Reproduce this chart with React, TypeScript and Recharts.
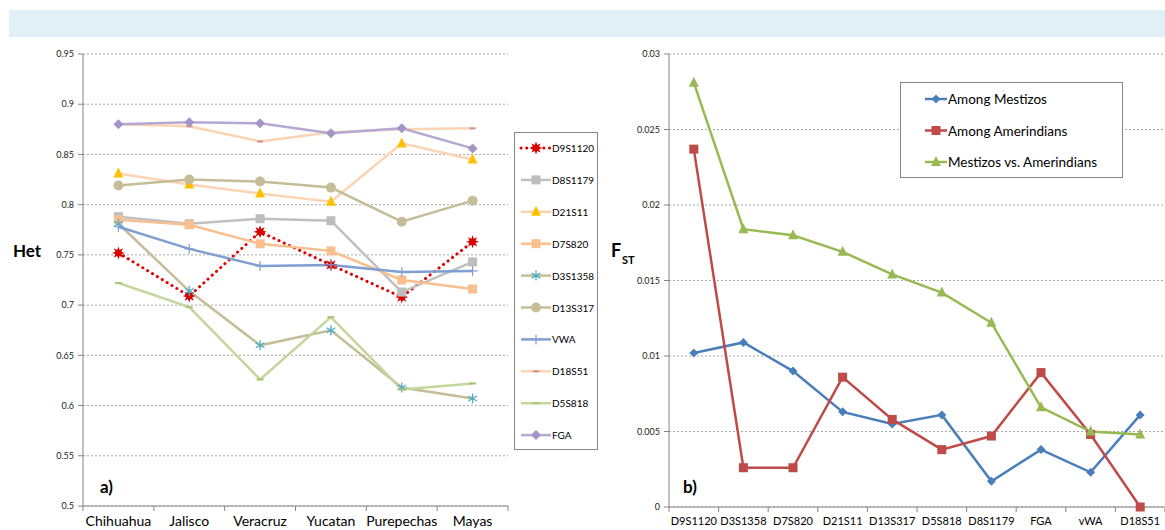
import React from 'react';
import { LineChart, Line, XAxis, YAxis, CartesianGrid, Legend } from 'recharts';

// ---------- Data ----------
const populations = ['Chihuahua', 'Jalisco', 'Veracruz', 'Yucatan', 'Purepechas', 'Mayas'];
const D9S1120 = [0.752, 0.709, 0.773, 0.74, 0.708, 0.763];
const D8S1179 = [0.788, 0.781, 0.786, 0.784, 0.713, 0.743];
const D21S11 = [0.831, 0.82, 0.811, 0.803, 0.861, 0.845];
const D7S820 = [0.785, 0.78, 0.761, 0.754, 0.725, 0.716];
const D3S1358 = [0.781, 0.714, 0.66, 0.675, 0.618, 0.607];
const D13S317 = [0.819, 0.825, 0.823, 0.817, 0.783, 0.804];
const VWA = [0.778, 0.756, 0.739, 0.74, 0.733, 0.734];
const D18S51 = [0.88, 0.878, 0.863, 0.872, 0.875, 0.876];
const D5S818 = [0.722, 0.698, 0.626, 0.688, 0.616, 0.622];
const FGA = [0.88, 0.882, 0.881, 0.871, 0.876, 0.856];
const hetTicks = [0.5, 0.55, 0.6, 0.65, 0.7, 0.75, 0.8, 0.85, 0.9, 0.95];

const loci = ['D9S1120', 'D3S1358', 'D7S820', 'D21S11', 'D13S317', 'D5S818', 'D8S1179', 'FGA', 'vWA', 'D18S51'];
const amongMestizos = [0.0102, 0.0109, 0.009, 0.0063, 0.0055, 0.0061, 0.0017, 0.0038, 0.0023, 0.0061];
const amongAmerindians = [0.0237, 0.0026, 0.0026, 0.0086, 0.0058, 0.0038, 0.0047, 0.0089, 0.0048, 0];
const mestizosVsAmerindians = [0.0281, 0.0184, 0.018, 0.0169, 0.0154, 0.0142, 0.0122, 0.0066, 0.005, 0.0048];
const fstTicks = [0, 0.005, 0.01, 0.015, 0.02, 0.025, 0.03];

const hetSeries: [string, number[]][] = [
  ['D9S1120', D9S1120],
  ['D8S1179', D8S1179],
  ['D21S11', D21S11],
  ['D7S820', D7S820],
  ['D3S1358', D3S1358],
  ['D13S317', D13S317],
  ['VWA', VWA],
  ['D18S51', D18S51],
  ['D5S818', D5S818],
  ['FGA', FGA],
];
const hetData = populations.map((p, i) => {
  const row: any = { pop: p };
  hetSeries.forEach(([k, arr]) => (row[k] = arr[i]));
  return row;
});

const fstSeries: [string, string, number[]][] = [
  ['mest', 'Among Mestizos', amongMestizos],
  ['amer', 'Among Amerindians', amongAmerindians],
  ['vs', 'Mestizos vs. Amerindians', mestizosVsAmerindians],
];
const fstData = loci.map((l, i) => {
  const row: any = { locus: l };
  fstSeries.forEach(([k, , arr]) => (row[k] = arr[i]));
  return row;
});

// ---------- Styles ----------
const AXIS = '#868686';
const GRID = '#a6a6a6';
const FONT = 'Lato, "Open Sans", sans-serif';

type Marker = (cx: number, cy: number, key: string) => React.ReactElement;

const square = (fill: string, s: number): Marker => (cx, cy, key) => (
  <rect key={key} x={cx - s / 2} y={cy - s / 2} width={s} height={s} fill={fill} />
);
const triangle = (fill: string, s: number): Marker => (cx, cy, key) => (
  <path key={key} d={`M${cx},${cy - s * 0.6} L${cx + s / 2},${cy + s * 0.4} L${cx - s / 2},${cy + s * 0.4} Z`} fill={fill} />
);
const diamond = (fill: string, s: number): Marker => (cx, cy, key) => (
  <path key={key} d={`M${cx},${cy - s} L${cx + s},${cy} L${cx},${cy + s} L${cx - s},${cy} Z`} fill={fill} />
);
const circle = (fill: string, r: number): Marker => (cx, cy, key) => <circle key={key} cx={cx} cy={cy} r={r} fill={fill} />;
const dash = (stroke: string, w: number): Marker => (cx, cy, key) => (
  <line key={key} x1={cx - w / 2} x2={cx + w / 2} y1={cy} y2={cy} stroke={stroke} strokeWidth={2} />
);
const plus = (stroke: string, s: number): Marker => (cx, cy, key) => (
  <path key={key} d={`M${cx - s},${cy} H${cx + s} M${cx},${cy - s} V${cy + s}`} stroke={stroke} strokeWidth={1.2} fill="none" />
);
const asterisk = (stroke: string, s: number): Marker => (cx, cy, key) => (
  <path
    key={key}
    d={`M${cx},${cy - s} V${cy + s} M${cx - s * 0.87},${cy - s / 2} L${cx + s * 0.87},${cy + s / 2} M${cx - s * 0.87},${cy + s / 2} L${cx + s * 0.87},${cy - s / 2}`}
    stroke={stroke}
    strokeWidth={1.3}
    fill="none"
  />
);
const star = (fill: string, r: number): Marker => (cx, cy, key) => {
  const pts: string[] = [];
  for (let i = 0; i < 16; i++) {
    const a = (Math.PI / 8) * i - Math.PI / 2;
    const rr = i % 2 === 0 ? r : r * 0.5;
    pts.push(`${cx + rr * Math.cos(a)},${cy + rr * Math.sin(a)}`);
  }
  return <polygon key={key} points={pts.join(' ')} fill={fill} />;
};

const hetStyle: Record<string, { stroke: string; width: number; dash?: string; marker: Marker }> = {
  D9S1120: { stroke: '#e00000', width: 3, dash: '0.1 5.6', marker: star('#d80000', 6.5) },
  D8S1179: { stroke: '#c0c0c0', width: 2.5, marker: square('#bdbdbd', 9) },
  D21S11: { stroke: '#fcd3b3', width: 2.5, marker: triangle('#ffc000', 10) },
  D7S820: { stroke: '#fabf8f', width: 2.5, marker: square('#fabf8f', 9) },
  D3S1358: { stroke: '#c4bd97', width: 2.5, marker: asterisk('#4bacc6', 5) },
  D13S317: { stroke: '#c4bd97', width: 2.5, marker: circle('#c4bd97', 5) },
  VWA: { stroke: '#7f9fd2', width: 2.5, marker: plus('#7f9fd2', 5) },
  D18S51: { stroke: '#fcd3b3', width: 2.5, marker: dash('#d58f8c', 6) },
  D5S818: { stroke: '#c3d69b', width: 2.5, marker: dash('#a9c476', 7) },
  FGA: { stroke: '#b5a8d3', width: 2.5, marker: diamond('#a196c6', 5) },
};

const fstStyle: Record<string, { stroke: string; marker: Marker }> = {
  mest: { stroke: '#4a7ebb', marker: diamond('#4a7ebb', 4.5) },
  amer: { stroke: '#be4b48', marker: square('#be4b48', 9) },
  vs: { stroke: '#98b954', marker: triangle('#98b954', 10) },
};

const hetOrder = hetSeries.map(([k]) => k);
const fstOrder = fstSeries.map(([k]) => k);

const fmt = (v: number) => String(Number(v.toFixed(3)));

const makeXTick = (band: number, count: number, fontSize: number, dy: number) => (props: any) => {
  const { x, y, payload, index } = props;
  return (
    <g>
      <line x1={x - band / 2} x2={x - band / 2} y1={y} y2={y + 5} stroke={AXIS} />
      {index === count - 1 && <line x1={x + band / 2} x2={x + band / 2} y1={y} y2={y + 5} stroke={AXIS} />}
      <text x={x} y={y + dy} textAnchor="middle" fontSize={fontSize} fill="#000" fontFamily={FONT}>
        {payload.value}
      </text>
    </g>
  );
};

const sortBy = (payload: any[], order: string[]) =>
  [...payload].sort((a, b) => order.indexOf(a.dataKey) - order.indexOf(b.dataKey));

const LeftLegend = (props: any) => {
  const payload = sortBy(props.payload || [], hetOrder);
  return (
    <div style={{ width: 84, height: 318, border: `1px solid ${AXIS}`, background: '#fff', boxSizing: 'border-box' }}>
      <svg width={82} height={316} style={{ display: 'block' }}>
        {payload.map((entry: any, i: number) => {
          const s = hetStyle[entry.dataKey];
          const cy = 15 + i * 31.9;
          return (
            <g key={entry.dataKey}>
              <line x1={6} x2={36} y1={cy} y2={cy} stroke={s.stroke} strokeWidth={s.width} strokeDasharray={s.dash} strokeLinecap={s.dash ? 'round' : 'butt'} />
              {s.marker(21, cy, 'lg' + i)}
              <text x={37} y={cy + 4} fontSize={10} fill="#000" fontFamily={FONT}>
                {entry.value}
              </text>
            </g>
          );
        })}
      </svg>
    </div>
  );
};

const RightLegend = (props: any) => {
  const payload = sortBy(props.payload || [], fstOrder);
  return (
    <div style={{ width: 223, height: 96, border: `1px solid ${AXIS}`, background: '#fff', boxSizing: 'border-box' }}>
      <svg width={221} height={94} style={{ display: 'block' }}>
        {payload.map((entry: any, i: number) => {
          const s = fstStyle[entry.dataKey];
          const cy = 16 + i * 31.5;
          return (
            <g key={entry.dataKey}>
              <line x1={24} x2={46} y1={cy} y2={cy} stroke={s.stroke} strokeWidth={2.5} />
              {s.marker(35, cy, 'rg' + i)}
              <text x={47} y={cy + 5} fontSize={13.5} fill="#000" fontFamily={FONT}>
                {entry.value}
              </text>
            </g>
          );
        })}
      </svg>
    </div>
  );
};

const LEFT_BAND = 425 / 6;
const RIGHT_BAND = 496 / 10;

export default function App() {
  return (
    <div style={{ position: 'absolute', left: 0, top: 0, width: 1165, height: 530, background: '#fff', fontFamily: FONT, overflow: 'hidden' }}>
      <div style={{ position: 'absolute', left: 9, top: 10, width: 1156, height: 27, background: '#e1f0f5' }} />

      <div style={{ position: 'absolute', left: 0, top: 0 }}>
        <LineChart width={600} height={530} data={hetData} margin={{ top: 54, right: 92, bottom: 0, left: 43 }}>
          <CartesianGrid horizontal vertical={false} stroke={GRID} strokeDasharray="2 2" />
          <XAxis
            dataKey="pop"
            type="category"
            interval={0}
            height={24}
            padding={{ left: LEFT_BAND / 2, right: LEFT_BAND / 2 }}
            stroke={AXIS}
            tickLine={false}
            tickSize={0}
            tickMargin={0}
            tick={makeXTick(LEFT_BAND, populations.length, 14, 20)}
          />
          <YAxis
            type="number"
            domain={[0.5, 0.95]}
            ticks={hetTicks}
            interval={0}
            width={40}
            stroke={AXIS}
            tickSize={5}
            tickMargin={4}
            tickFormatter={fmt}
            tick={{ fontSize: 9, fill: '#222', fontFamily: FONT }}
          />
          <Legend
            layout="vertical"
            align="center"
            verticalAlign="middle"
            wrapperStyle={{ left: 514, top: 132, width: 84, height: 318 }}
            content={<LeftLegend />}
          />
          {hetSeries.map(([k]) => {
            const s = hetStyle[k];
            return (
              <Line
                key={k}
                dataKey={k}
                name={k}
                type="linear"
                stroke={s.stroke}
                strokeWidth={s.width}
                strokeDasharray={s.dash}
                strokeLinecap={s.dash ? 'round' : 'butt'}
                isAnimationActive={false}
                activeDot={false}
                dot={(p: any) => s.marker(p.cx, p.cy, `${k}-${p.index}`)}
              />
            );
          })}
        </LineChart>
      </div>

      <div style={{ position: 'absolute', left: 580, top: 0 }}>
        <LineChart width={585} height={530} data={fstData} margin={{ top: 54, right: 0, bottom: 0, left: 49 }}>
          <CartesianGrid horizontal vertical={false} stroke={GRID} strokeDasharray="2 2" />
          <XAxis
            dataKey="locus"
            type="category"
            interval={0}
            height={23}
            padding={{ left: RIGHT_BAND / 2, right: RIGHT_BAND / 2 }}
            stroke={AXIS}
            tickLine={false}
            tickSize={0}
            tickMargin={0}
            tick={makeXTick(RIGHT_BAND, loci.length, 11, 18)}
          />
          <YAxis
            type="number"
            domain={[0, 0.03]}
            ticks={fstTicks}
            interval={0}
            width={40}
            stroke={AXIS}
            tickSize={5}
            tickMargin={4}
            tickFormatter={fmt}
            tick={{ fontSize: 9, fill: '#222', fontFamily: FONT }}
          />
          <Legend
            layout="vertical"
            align="center"
            verticalAlign="middle"
            wrapperStyle={{ left: 320, top: 82, width: 223, height: 96 }}
            content={<RightLegend />}
          />
          {fstSeries.map(([k, name]) => {
            const s = fstStyle[k];
            return (
              <Line
                key={k}
                dataKey={k}
                name={name}
                type="linear"
                stroke={s.stroke}
                strokeWidth={2.5}
                isAnimationActive={false}
                activeDot={false}
                dot={(p: any) => s.marker(p.cx, p.cy, `${k}-${p.index}`)}
              />
            );
          })}
        </LineChart>
      </div>

      <svg width={1165} height={530} style={{ position: 'absolute', left: 0, top: 0, pointerEvents: 'none' }}>
        <text x={13} y={257} fontSize={17} fontWeight="bold" fill="#000" fontFamily={FONT}>Het</text>
        <text x={100} y={493} fontSize={17} fontWeight="bold" fill="#000" fontFamily={FONT}>a)</text>
        <text x={611} y={257} fontSize={18} fontWeight="bold" fill="#000" fontFamily={FONT}>F</text>
        <text x={622} y={264} fontSize={11} fontWeight="bold" fill="#000" fontFamily={FONT}>ST</text>
        <text x={683} y={493} fontSize={17} fontWeight="bold" fill="#000" fontFamily={FONT}>b)</text>
      </svg>
    </div>
  );
}
